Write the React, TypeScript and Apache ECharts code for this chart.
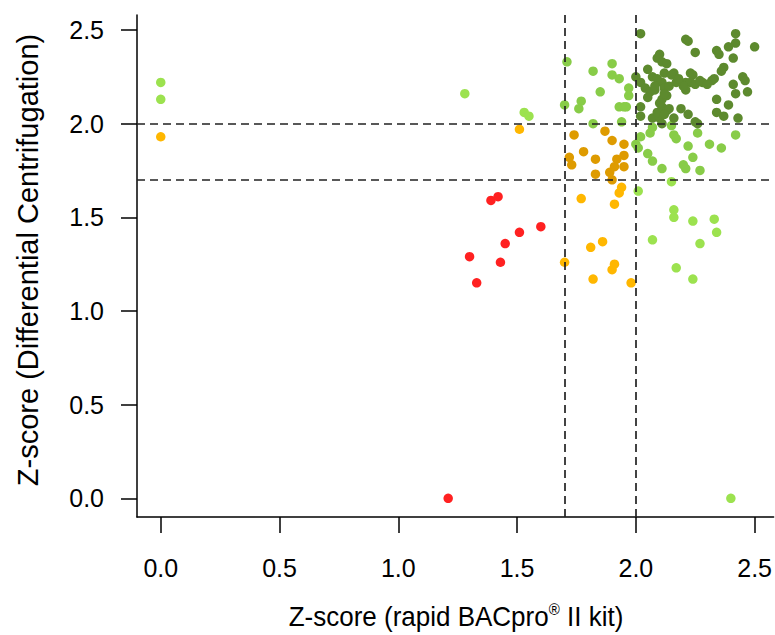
import React, { useEffect, useRef } from "react";
import * as echarts from "echarts";

// [x, y] z-scores per agreement category
const redPoints: number[][] = [
  [1.39, 1.59], [1.42, 1.61], [1.6, 1.45], [1.51, 1.42], [1.45, 1.36],
  [1.3, 1.29], [1.43, 1.26], [1.33, 1.15], [1.21, 0],
];
const yellowPoints: number[][] = [
  [0, 1.93], [1.51, 1.97], [1.77, 1.6], [1.94, 1.66], [1.93, 1.63], [1.91, 1.57],
  [1.86, 1.37], [1.81, 1.34], [1.7, 1.26], [1.91, 1.25], [1.9, 1.22], [1.82, 1.17],
  [1.98, 1.15],
];
const orangePoints: number[][] = [
  [1.74, 1.94], [1.87, 1.96], [1.9, 1.91], [1.95, 1.89], [1.78, 1.85], [1.72, 1.82],
  [1.73, 1.78], [1.83, 1.81], [1.95, 1.83], [1.92, 1.81], [1.91, 1.77], [1.95, 1.77],
  [1.83, 1.73], [1.89, 1.74], [1.9, 1.7],
];
const brightGreenPoints: number[][] = [
  [0, 2.22], [0, 2.13], [1.28, 2.16], [1.53, 2.06], [1.55, 2.04], [2.01, 1.64],
  [2.15, 1.69], [2.16, 1.54], [2.16, 1.5], [2.24, 1.48], [2.33, 1.49], [2.34, 1.42],
  [2.07, 1.38], [2.27, 1.36], [2.17, 1.23], [2.24, 1.17], [2.4, 0],
];
const lightGreenPoints: number[][] = [
  [1.71, 2.33], [1.9, 2.32], [1.82, 2.28], [1.9, 2.26], [1.93, 2.24], [1.85, 2.17],
  [1.97, 2.19], [1.97, 2.15], [1.77, 2.12], [1.7, 2.1], [1.76, 2.08], [1.93, 2.09],
  [1.95, 2.09], [1.96, 2.09], [1.82, 2.0], [1.94, 2.01], [2.0, 1.89], [2.01, 1.87],
  [2.02, 1.93], [2.06, 1.95], [2.07, 1.98], [2.15, 1.99], [2.16, 1.94], [2.17, 1.92],
  [2.22, 1.88], [2.26, 1.95], [2.31, 1.89], [2.36, 1.87], [2.42, 1.94], [2.05, 1.84],
  [2.07, 1.8], [2.11, 1.76], [2.2, 1.78], [2.21, 1.76], [2.24, 1.82], [2.27, 1.75],
];
const darkGreenPoints: number[][] = [
  [2.02, 2.48], [2.21, 2.45], [2.22, 2.44], [2.42, 2.48], [2.5, 2.41], [2.42, 2.43],
  [2.39, 2.41], [2.25, 2.38], [2.34, 2.39], [2.35, 2.37], [2.41, 2.35], [2.1, 2.37],
  [2.09, 2.35], [2.11, 2.33], [2.13, 2.32], [2.37, 2.3], [2.36, 2.28], [2.0, 2.25],
  [2.07, 2.25], [2.12, 2.27], [2.16, 2.27], [2.23, 2.27], [2.24, 2.26], [2.45, 2.25],
  [2.46, 2.23], [2.02, 2.22], [2.04, 2.19], [2.06, 2.17], [2.08, 2.18], [2.11, 2.22],
  [2.12, 2.19], [2.21, 2.22], [2.23, 2.22], [2.25, 2.21], [2.28, 2.22], [2.32, 2.23],
  [2.33, 2.24], [2.21, 2.18], [2.2, 2.2], [2.41, 2.21], [2.05, 2.14], [2.13, 2.15],
  [2.11, 2.13], [2.42, 2.16], [2.47, 2.17], [2.02, 2.09], [2.11, 2.09], [2.13, 2.07],
  [2.14, 2.08], [2.19, 2.08], [2.34, 2.13], [2.39, 2.1], [2.34, 2.06], [2.37, 2.04],
  [2.43, 2.03], [2.02, 2.04], [2.07, 2.03], [2.16, 2.03], [2.22, 2.05], [2.25, 2.01],
  [2.26, 2.0], [2.1, 2.03], [2.09, 2.06], [2.1, 2.11], [2.12, 2.16], [2.14, 2.2],
  [2.17, 2.22], [2.09, 2.24], [2.05, 2.29], [2.15, 2.26], [2.08, 2.2], [2.27, 2.23],
  [2.3, 2.21], [2.18, 2.24], [2.12, 2.05], [2.11, 2.0],
];
const tickValues = [0, 0.5, 1, 1.5, 2, 2.5];
const cutoffs = [1.7, 2.0];
const xTitle = "Z-score (rapid BACpro";
const xTitleSup = "®";
const xTitleEnd = " II kit)";
const yTitle = "Z-score (Differential Centrifugation)";

const FONT = "'Liberation Sans', Arial, Helvetica, sans-serif";

export default function App() {
  const ref = useRef<HTMLDivElement>(null);
  useEffect(() => {
    if (!ref.current) return;
    const chart = echarts.init(ref.current, null, { renderer: "svg" });
    const axisCommon = {
      type: "value" as const,
      min: -0.1,
      max: 2.58,
      splitLine: { show: false },
      axisLine: { show: true, onZero: false, lineStyle: { color: "#000", width: 1.5 } },
      axisTick: {
        show: true,
        customValues: tickValues,
        length: 16,
        lineStyle: { color: "#000", width: 1.5 },
      },
    };
    const mkScatter = (data: number[][], color: string) => ({
      type: "scatter",
      data,
      symbol: "circle",
      symbolSize: 9.5,
      itemStyle: { color, opacity: 1 },
      silent: true,
    });
    chart.setOption({
      animation: false,
      grid: { left: 137, top: 15, right: 0, bottom: 118 },
      xAxis: {
        ...axisCommon,
        axisLabel: {
          customValues: tickValues,
          formatter: (v: number) => v.toFixed(1),
          fontSize: 25,
          fontFamily: FONT,
          color: "#000",
          margin: 38,
        },
      },
      yAxis: {
        ...axisCommon,
        axisLabel: {
          customValues: tickValues,
          formatter: (v: number) => v.toFixed(1),
          fontSize: 25,
          fontFamily: FONT,
          color: "#000",
          margin: 33,
        },
      },
      series: [
        {
          ...mkScatter(redPoints, "#ff2121"),
          markLine: {
            silent: true,
            symbol: ["none", "none"],
            label: { show: false },
            lineStyle: { color: "#222", type: [8, 5], width: 1.7 },
            data: [
              ...cutoffs.map((c) => ({ xAxis: c })),
              ...cutoffs.map((c) => ({ yAxis: c })),
            ],
          },
        },
        mkScatter(yellowPoints, "#ffb700"),
        mkScatter(orangePoints, "#de9b00"),
        mkScatter(brightGreenPoints, "#9ce24f"),
        mkScatter(lightGreenPoints, "#88cc48"),
        mkScatter(darkGreenPoints, "#5d8a2e"),
      ],
      graphic: [
        {
          type: "text",
          x: 456,
          y: 617,
          scaleY: 1.08,
          style: {
            text: `{a|${xTitle}}{b|${xTitleSup}}{a|${xTitleEnd}}`,
            align: "center",
            verticalAlign: "middle",
            rich: {
              a: { fontSize: 26, fontFamily: FONT, fill: "#000", lineHeight: 30 },
              b: { fontSize: 15, fontFamily: FONT, fill: "#000", lineHeight: 15, verticalAlign: "top" },
            },
          },
        },
        {
          type: "text",
          x: 28,
          y: 260,
          rotation: Math.PI / 2,
          style: {
            text: yTitle,
            fontSize: 29,
            fontFamily: FONT,
            fill: "#000",
            align: "center",
            verticalAlign: "middle",
          },
        },
      ],
    });
    return () => chart.dispose();
  }, []);
  return (
    <div
      ref={ref}
      style={{ position: "fixed", left: 0, top: 0, width: 775, height: 635, background: "#fff" }}
    />
  );
}
